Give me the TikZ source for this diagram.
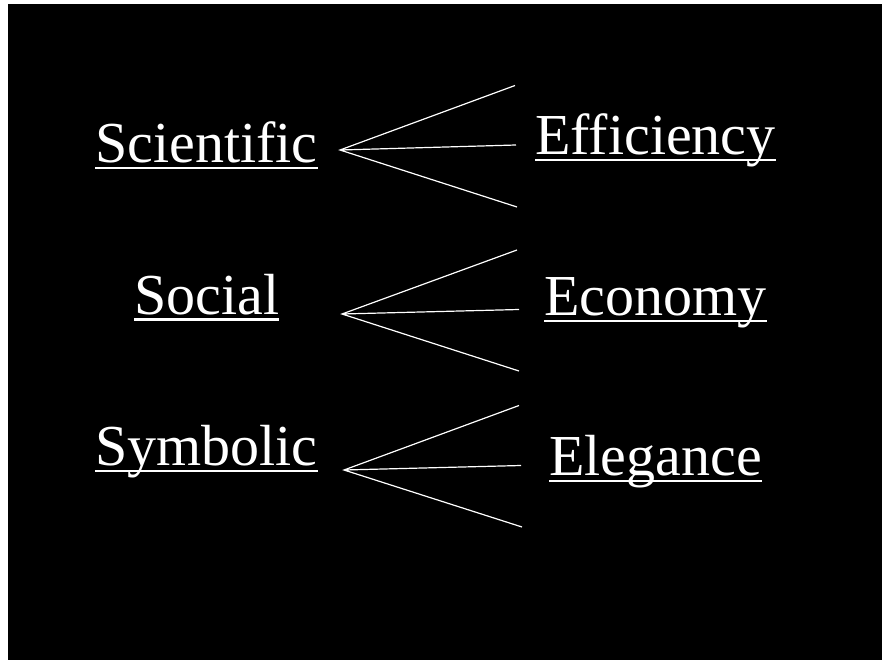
\documentclass[tikz,border=0pt]{standalone}
\usepackage{fontspec}
\setmainfont[Ligatures=NoCommon]{Liberation Serif}
\usepackage{tikz}

\begin{document}
\begin{tikzpicture}[
		x=1bp, y=-1bp,
		wd/.style={anchor=base west,inner sep=0pt,text=white,font=\fontsize{58bp}{70bp}\selectfont},
		ul/.style={white,line width=2.6bp},
		ln/.style={white,line width=1.2bp}]
	%% background
	\useasboundingbox (0,0) rectangle (882,660);
	\fill[white] (-5,-5) rectangle (890,668);
	\fill[black] (8,4) rectangle (890,668);
	%% words
	\node[wd] (sci) at (95,162.5) {Scientific};
	\node[wd] (soc) at (134,314) {Social};
	\node[wd] (sym) at (95,465.5) {Symbolic};
	\node[wd] (eff) at (535,154.5) {Efficiency};
	\node[wd] (eco) at (544,315.5) {Economy};
	\node[wd] (ele) at (549,475.5) {Elegance};
	%% underlines
	\foreach \w in {sci,soc,sym,eff,eco,ele}
		\draw[ul] ([yshift=-5.5bp]\w.base west) -- ([yshift=-5.5bp]\w.base east);
	%% fans
	\coordinate (a1) at (340,150);
	\coordinate (a2) at (342,314);
	\coordinate (a3) at (344,470);
	\coordinate (u1) at (515,85.5);
	\coordinate (m1) at (516,145);
	\coordinate (l1) at (517,207);
	\coordinate (u2) at (517,250);
	\coordinate (m2) at (519,309.5);
	\coordinate (l2) at (519,371);
	\coordinate (u3) at (519,405.5);
	\coordinate (m3) at (521,465.5);
	\coordinate (l3) at (522,527);
	\foreach \i in {1,2,3}
		\draw[ln] (u\i) -- (a\i) -- (l\i) (a\i) -- (m\i);
\end{tikzpicture}
\end{document}
